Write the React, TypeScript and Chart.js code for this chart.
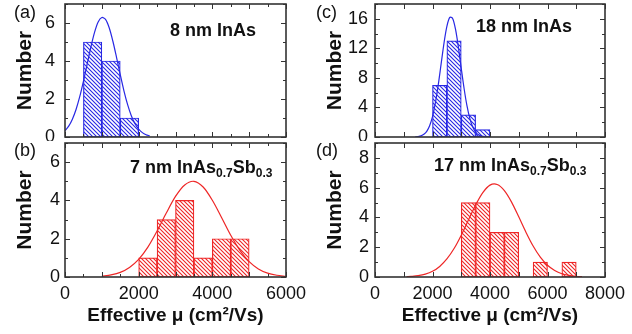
import React, { useEffect, useRef } from "react";
import { Chart, registerables } from "chart.js";

Chart.register(...registerables);

// ---------------- data ----------------
// (a) 8 nm InAs
const binCentersA = [750, 1250, 1750];
const countsA = [5, 4, 1];
const fitXA = [0, 100, 200, 300, 400, 500, 600, 700, 800, 900, 1000, 1100, 1200, 1300, 1400, 1500, 1600, 1700, 1800, 1900, 2000, 2100, 2200, 2300];
const fitYA = [0.33, 0.57, 0.94, 1.45, 2.12, 2.93, 3.82, 4.71, 5.49, 6.05, 6.29, 6.19, 5.75, 5.04, 4.18, 3.28, 2.43, 1.7, 1.12, 0.7, 0.41, 0.23, 0.12, 0.06];

// (b) 7 nm InAs0.7Sb0.3
const binCentersB = [2250, 2750, 3250, 3750, 4250, 4750];
const countsB = [1, 3, 4, 1, 2, 2];
const fitXB = [1000, 1250, 1500, 1750, 2000, 2250, 2500, 2750, 3000, 3250, 3500, 3750, 4000, 4250, 4500, 4750, 5000, 5250, 5500, 5750, 6000];
const fitYB = [0.04, 0.11, 0.24, 0.5, 0.92, 1.56, 2.4, 3.34, 4.21, 4.81, 5.0, 4.7, 4.01, 3.11, 2.18, 1.39, 0.8, 0.42, 0.2, 0.09, 0.03];

// (c) 18 nm InAs
const binCentersC = [2250, 2750, 3250, 3750];
const countsC = [7, 13, 3, 1];
const fitXC = [1400, 1500, 1600, 1700, 1800, 1900, 2000, 2100, 2200, 2300, 2400, 2500, 2600, 2700, 2800, 2900, 3000, 3100, 3200, 3300, 3400, 3500, 3600, 3700, 3800];
const fitYC = [0.02, 0.06, 0.15, 0.36, 0.77, 1.53, 2.77, 4.62, 7.05, 9.89, 12.71, 14.97, 16.19, 16.05, 14.59, 12.17, 9.31, 6.53, 4.2, 2.48, 1.34, 0.67, 0.3, 0.13, 0.05];

// (d) 17 nm InAs0.7Sb0.3
const binCentersD = [3250, 3750, 4250, 4750, 5750, 6750];
const countsD = [5, 5, 3, 3, 1, 1];
const fitXD = [1100, 1250, 1500, 1750, 2000, 2250, 2500, 2750, 3000, 3250, 3500, 3750, 4000, 4250, 4500, 4750, 5000, 5250, 5500, 5750, 6000, 6250, 6500, 6750, 7000, 7200];
const fitYD = [0.02, 0.04, 0.09, 0.19, 0.38, 0.71, 1.21, 1.91, 2.81, 3.83, 4.84, 5.67, 6.17, 6.21, 5.8, 5.03, 4.04, 3.01, 2.08, 1.33, 0.79, 0.44, 0.22, 0.11, 0.05, 0.02];

// tick labels
const xTickLabelsLeft = [0, 2000, 4000, 6000];
const xTickLabelsRight = [0, 2000, 4000, 6000, 8000];
const yTickLabelsA = [0, 2, 4, 6];
const yTickLabelsB = [0, 2, 4, 6];
const yTickLabelsC = [0, 4, 8, 12, 16];
const yTickLabelsD = [0, 2, 4, 6, 8];

// ---------------- styles ----------------
const FONT = "'Liberation Sans', Arial, Helvetica, sans-serif";
const BLUE = "#2828e4";
const RED = "#ee2626";
const AXIS = "#333333";
const TEXT = "#111111";

type PanelCfg = {
  centers: number[];
  counts: number[];
  fitX: number[];
  fitY: number[];
  color: string;
  xMax: number;
  yMax: number;
  xTicks: number[];
  yTicks: number[];
  showX: boolean;
  xMajor: number;
  xMinor: number;
  yMajor: number;
  yMinor: number;
  yPad: number;
  bottomH: number;
  topPad: number;
  rightPad: number;
};

function makeHatch(color: string): CanvasPattern {
  const s = 4;
  const c = document.createElement("canvas");
  c.width = s;
  c.height = s;
  const g = c.getContext("2d")!;
  g.fillStyle = "#ffffff";
  g.fillRect(0, 0, s, s);
  g.strokeStyle = color;
  g.lineWidth = 1.1;
  g.beginPath();
  g.moveTo(-1, -1);
  g.lineTo(s + 1, s + 1);
  g.moveTo(-1, s - 1);
  g.lineTo(1, s + 1);
  g.moveTo(s - 1, -1);
  g.lineTo(s + 1, 1);
  g.stroke();
  return g.createPattern(c, "repeat")!;
}

const framePlugin = {
  id: "frame",
  afterDatasetsDraw(chart: any, _args: any, opts: any) {
    const { ctx, chartArea } = chart;
    const { left, right, top, bottom } = chartArea;
    const xs = chart.scales.x;
    const ys = chart.scales.y;
    const MAJ = 5;
    const MIN = 3;
    ctx.save();
    ctx.strokeStyle = AXIS;
    ctx.lineWidth = 1;
    ctx.beginPath();
    const xMax = xs.max;
    const yMax = ys.max;
    const xStep = opts.xMinor > 0 ? opts.xMinor : opts.xMajor;
    for (let v = 0; v <= xMax + 1e-6; v += xStep) {
      const isMaj = Math.abs(v / opts.xMajor - Math.round(v / opts.xMajor)) < 1e-6;
      const len = isMaj ? MAJ : MIN;
      const p = Math.round(xs.getPixelForValue(v)) + 0.5;
      ctx.moveTo(p, bottom);
      ctx.lineTo(p, bottom - len);
      ctx.moveTo(p, top);
      ctx.lineTo(p, top + len);
    }
    for (let v = 0; v <= yMax + 1e-6; v += opts.yMinor) {
      const isMaj = Math.abs(v / opts.yMajor - Math.round(v / opts.yMajor)) < 1e-6;
      const len = isMaj ? MAJ : MIN;
      const p = Math.round(ys.getPixelForValue(v)) + 0.5;
      ctx.moveTo(left, p);
      ctx.lineTo(left + len, p);
      ctx.moveTo(right, p);
      ctx.lineTo(right - len, p);
    }
    ctx.stroke();
    ctx.lineWidth = 1.6;
    ctx.strokeRect(left, top, right - left, bottom - top);
    ctx.restore();
  },
};

function zeroPad(s: any) {
  s.paddingTop = 0;
  s.paddingBottom = 0;
  s.paddingLeft = 0;
  s.paddingRight = 0;
}

function Panel({ cfg, left, top, width, height }: { cfg: PanelCfg; left: number; top: number; width: number; height: number }) {
  const ref = useRef<HTMLCanvasElement>(null);
  useEffect(() => {
    const canvas = ref.current!;
    const pattern = makeHatch(cfg.color);
    const chart = new Chart(canvas, {
      type: "bar",
      data: {
        datasets: [
          {
            type: "line",
            data: cfg.fitX.map((x, i) => ({ x, y: cfg.fitY[i] })),
            borderColor: cfg.color,
            borderWidth: 1.2,
            pointRadius: 0,
            tension: 0.3,
            fill: false,
            order: 0,
          } as any,
          {
            type: "bar",
            data: cfg.centers.map((x, i) => ({ x, y: cfg.counts[i] })),
            backgroundColor: pattern,
            borderColor: cfg.color,
            borderWidth: 1.2,
            borderSkipped: false,
            barPercentage: 1,
            categoryPercentage: 1,
            order: 1,
          } as any,
        ],
      },
      options: {
        animation: false,
        responsive: false,
        events: [],
        layout: { padding: { top: cfg.topPad, right: cfg.rightPad, left: 0, bottom: 0 } },
        plugins: {
          legend: { display: false },
          tooltip: { enabled: false },
          frame: { xMajor: cfg.xMajor, xMinor: cfg.xMinor, yMajor: cfg.yMajor, yMinor: cfg.yMinor },
        } as any,
        scales: {
          x: {
            type: "linear",
            min: 0,
            max: cfg.xMax,
            offset: false,
            grid: { display: false, drawTicks: false },
            border: { display: false },
            afterBuildTicks: (s: any) => {
              s.ticks = cfg.xTicks.map((v) => ({ value: v }));
            },
            ticks: {
              display: cfg.showX,
              padding: 6,
              autoSkip: false,
              maxRotation: 0,
              color: TEXT,
              font: { family: FONT, size: 18, lineHeight: 1.2 },
              callback: (v: any) => String(v),
            },
            title: {
              display: cfg.showX,
              text: "Effective μ (cm²/Vs)",
              color: TEXT,
              font: { family: FONT, size: 19, weight: "bold", lineHeight: 1 },
              padding: { top: 0, bottom: 9 },
            },
            afterFit: (s: any) => {
              s.height = cfg.bottomH;
              zeroPad(s);
            },
          } as any,
          y: {
            type: "linear",
            min: 0,
            max: cfg.yMax,
            grid: { display: false, drawTicks: false },
            border: { display: false },
            afterBuildTicks: (s: any) => {
              s.ticks = cfg.yTicks.map((v) => ({ value: v }));
            },
            ticks: {
              padding: cfg.yPad,
              color: TEXT,
              font: { family: FONT, size: 18, lineHeight: 1.2 },
              callback: (v: any) => String(v),
            },
            title: {
              display: true,
              text: "Number",
              color: TEXT,
              font: { family: FONT, size: 21, weight: "bold", lineHeight: 1 },
              padding: { top: 15, bottom: 0 },
            },
            afterFit: (s: any) => {
              s.width = 65;
              zeroPad(s);
            },
          } as any,
        },
      },
      plugins: [framePlugin as any],
    });
    return () => chart.destroy();
  }, []);
  return (
    <canvas
      ref={ref}
      width={width}
      height={height}
      style={{ position: "absolute", left, top, width, height }}
    />
  );
}

const cfgA: PanelCfg = {
  centers: binCentersA, counts: countsA, fitX: fitXA, fitY: fitYA, color: BLUE,
  xMax: 6000, yMax: 7, xTicks: xTickLabelsLeft, yTicks: yTickLabelsA, showX: false,
  xMajor: 1000, xMinor: 500, yMajor: 2, yMinor: 1, yPad: 10, bottomH: 4, topPad: 4, rightPad: 24,
};
const cfgB: PanelCfg = {
  centers: binCentersB, counts: countsB, fitX: fitXB, fitY: fitYB, color: RED,
  xMax: 6000, yMax: 7, xTicks: xTickLabelsLeft, yTicks: yTickLabelsB, showX: true,
  xMajor: 1000, xMinor: 500, yMajor: 2, yMinor: 1, yPad: 5, bottomH: 57, topPad: 2, rightPad: 24,
};
const cfgC: PanelCfg = {
  centers: binCentersC, counts: countsC, fitX: fitXC, fitY: fitYC, color: BLUE,
  xMax: 8000, yMax: 18, xTicks: xTickLabelsRight, yTicks: yTickLabelsC, showX: false,
  xMajor: 1000, xMinor: 0, yMajor: 4, yMinor: 2, yPad: 7, bottomH: 4, topPad: 4, rightPad: 27,
};
const cfgD: PanelCfg = {
  centers: binCentersD, counts: countsD, fitX: fitXD, fitY: fitYD, color: RED,
  xMax: 8000, yMax: 9, xTicks: xTickLabelsRight, yTicks: yTickLabelsD, showX: true,
  xMajor: 1000, xMinor: 0, yMajor: 2, yMinor: 1, yPad: 6, bottomH: 57, topPad: 2, rightPad: 27,
};

function Txt({ left, top, size, bold, children }: { left: number; top: number; size: number; bold?: boolean; children: React.ReactNode }) {
  return (
    <div
      style={{
        position: "absolute",
        left,
        top,
        fontFamily: FONT,
        fontSize: size,
        fontWeight: bold ? 700 : 400,
        lineHeight: `${size}px`,
        whiteSpace: "nowrap",
        color: TEXT,
      }}
    >
      {children}
    </div>
  );
}

function Sub({ children }: { children: React.ReactNode }) {
  return (
    <span style={{ fontSize: 12, lineHeight: "12px", position: "relative", top: 4 }}>{children}</span>
  );
}

export default function App() {
  return (
    <div style={{ position: "fixed", left: 0, top: 0, width: 632, height: 334, background: "#fff", overflow: "hidden" }}>
      <Panel cfg={cfgA} left={0} top={0} width={310} height={141} />
      <Panel cfg={cfgB} left={0} top={141} width={310} height={193} />
      <Panel cfg={cfgC} left={310} top={0} width={322} height={141} />
      <Panel cfg={cfgD} left={310} top={141} width={322} height={193} />

      <Txt left={14} top={3} size={18}>(a)</Txt>
      <Txt left={14} top={141} size={18}>(b)</Txt>
      <Txt left={316} top={3} size={18}>(c)</Txt>
      <Txt left={316} top={141} size={18}>(d)</Txt>

      <Txt left={170} top={21} size={18} bold>8 nm InAs</Txt>
      <Txt left={476} top={17} size={18} bold>18 nm InAs</Txt>
      <Txt left={130} top={158} size={18} bold>
        7 nm InAs<Sub>0.7</Sub>Sb<Sub>0.3</Sub>
      </Txt>
      <Txt left={434} top={156} size={18} bold>
        17 nm InAs<Sub>0.7</Sub>Sb<Sub>0.3</Sub>
      </Txt>
    </div>
  );
}
